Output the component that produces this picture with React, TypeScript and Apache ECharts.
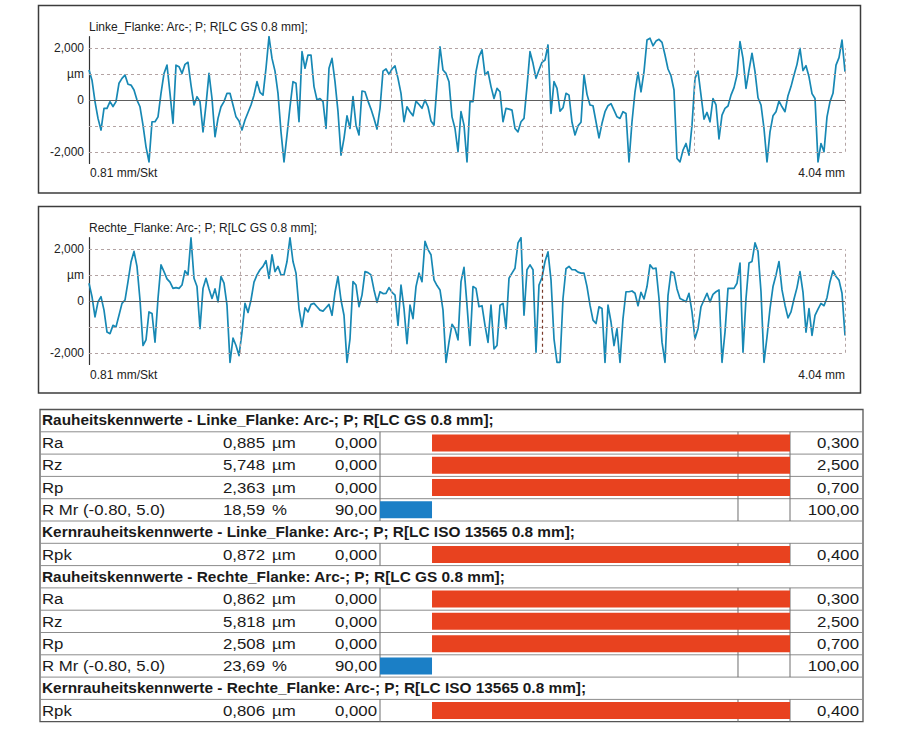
import React, { useEffect, useRef } from "react";
import * as echarts from "echarts";

// ---------- profile data (µm), sampled evenly over the 4.04 mm trace ----------
const PROFILE_LENGTH_MM = 4.04;
const DIVISION_MM = 0.808;
const divisionIndex = [1, 2, 3, 4, 5];

const leftFlankProfile = [
  1.16, 0.77, -0.06, -0.71, -1.16, -0.32, -0.32, -0.06, -0.25, -0.06,
  0.65, 0.84, 0.97, 0.61, 0.58, 0.39, 0, -0.26, -0.97, -1.81,
  -2.39, -0.84, -0.84, -0.65, 0.26, 1.03, 1.35, 0.26, -0.9, 1.35,
  1.29, 1.03, 1.38, 1.46, 0.58, -0.19, 0.13, -0.06, -1.23, -0.19,
  1.03, 0.06, -1.42, -0.71, -0.26, -0.06, 0.26, 0.26, -0.19, -0.65,
  -0.81, -1.16, -0.77, -0.48, -0.19, 0.19, 0.71, 0.3, 0.19, 1.23,
  2.45, 1.61, 1.12, 0.26, -1.23, -2.39, -1.35, -0.26, 0.71, 0.65,
  -0.84, 1.87, 1.23, 1.74, 1.74, 0.52, 0, 0.06, -0.06, -1.1,
  1.23, 1.61, 0.71, -0.45, -2.13, -1.48, -0.61, -1.1, 0.13, -0.97,
  -1.35, 0.35, 0.32, -0.04, -0.35, -0.71, -1.12, -0.32, 1.12, 1.2,
  0.99, 1.2, 1.32, 0.84, 0.26, -0.84, -0.26, -0.45, -0.61, -0.04,
  -0.17, -0.32, 0, -0.26, -0.81, -0.97, 0.58, 2.06, 1.16, 1.03,
  0.71, -0.65, -1.1, -2.0, -0.45, -0.97, -2.39, -0.06, -0.06, 1.1,
  1.68, 1.94, 0.97, 1.1, 0.52, 0.06, 0.45, 0.32, -0.84, -0.32,
  -0.35, -0.39, -1.1, -1.23, -0.84, -0.71, 0.52, 1.87, 1.42, 0.84,
  1.16, 1.46, 1.55, 2.13, -0.52, 0.71, 0.45, -0.43, -0.3, 0.26,
  0.19, -0.86, -1.35, -1.0, -0.86, 0.97, 0.22, -0.19, -0.22, -0.84,
  -1.46, -0.9, -0.45, -0.22, -0.14, -0.39, -0.65, -0.71, -0.45, -0.52,
  -2.39, -0.84, 0.32, 1.07, 0.32, 1.1, 2.32, 2.39, 2.1, 2.28,
  2.35, 2.23, 1.74, 1.2, 0.94, 0.39, -2.26, -2.39, -1.94, -1.68,
  -2.13, -0.97, 0.84, 1.12, 0.19, -0.74, -0.48, -0.84, 0.06, -0.19,
  -1.5, -0.58, -0.32, -0.23, 0.19, 0.48, 0.97, 2.26, 1.61, 0.45,
  1.16, 1.81, 1.1, 0.09, -0.19, -1.1, -2.39, -1.23, -0.61, -0.45,
  -0.04, -0.26, -0.45, 0.17, 0.52, 0.97, 1.38, 2.0, 1.14, 1.33,
  0.9, 0.25, 0.06, -2.39, -1.68, -2.0, -0.65, -0.06, 0.26, 1.35,
  1.64, 2.32, 1.1,
];

const rightFlankProfile = [
  0.69, 0.17, -0.61, -0.03, 0.17, -0.35, -1.2, -1.26, -0.94, -1.0,
  -0.55, -0.09, 0.04, 0.75, 1.51, 1.92, 1.34, 0.04, -1.72, -1.5,
  -0.42, -0.48, -1.59, 0.1, 1.4, 1.14, 0.86, 0.73, 0.49, 0.52,
  0.49, 0.62, 1.17, 1.01, 2.44, 0.88, 0.56, -1.07, 0.49, 0.88,
  0.47, 0.1, 0.47, -0.03, 0.95, 0.69, -0.16, -2.37, -1.43, -1.72,
  -2.11, -1.2, -0.09, -0.44, 0.04, 0.73, 1.01, 1.21, 1.34, 1.56,
  0.88, 1.79, 1.14, 1.34, 1.01, 1.01, 1.53, 2.44, 1.53, 1.08,
  -0.29, -1.0, -0.26, -0.42, -0.13, -0.09, -0.22, -0.35, -0.39, -0.26,
  -0.13, -0.55, 0.34, 0.95, 0.04, -0.55, -2.37, -1.46, 0.75, 0.62,
  -0.22, 0.23, 1.14, 1.1, 1.01, 0.43, -0.05, 0.36, 0.29, 0.3,
  0.52, 0.34, 0.23, -0.94, 0.62, -0.29, -1.65, -0.16, -0.68, 0.56,
  1.08, 0.75, 2.31, 1.99, 1.79, 0.82, 0.6, 0.43, -0.35, -2.37,
  -1.59, -0.9, -1.07, -1.5, 0.75, 1.3, -0.16, -1.72, 0.56, 0.49,
  -0.22, -0.18, -0.94, -1.6, -0.16, -1.85, -1.72, -0.16, -0.09, -1.07,
  0.88, 1.08, 1.27, 2.25, 2.45, -0.55, 1.21, 1.4, 1.21, -1.98,
  0.62, 0.91, 1.53, 1.9, 0.82, -1.46, -2.37, -2.37, 0.1, 1.25,
  1.34, 1.21, 1.21, 1.12, 1.08, 1.08, 0.56, -0.16, -0.74, -0.87,
  -0.22, -0.29, -2.37, -0.16, -0.81, -1.72, -1.07, -2.37, -0.68, 0.36,
  0.36, 0.39, 0.3, -0.18, 0.34, 0.08, 0.56, 1.4, 1.25, 1.27,
  0.1, -1.59, -2.37, 0.21, 1.14, 1.08, 0.47, 0.1, 0.04, -0.03,
  0.3, -0.42, -1.46, -1.07, -0.22, 0.04, 0.3, -0.03, 0.26, 0.36,
  0.43, -2.37, -1.2, 0.49, 0.49, 0.49, 0.69, 1.47, -1.98, 0.1,
  1.47, 1.53, 2.25, 1.92, 0.36, -2.37, -1.39, -0.29, 0.56, 1.01,
  1.53, 0.43, -0.16, -0.65, -0.42, 0.08, 0.52, 1.14, 0.34, -1.2,
  -0.29, -1.33, -0.55, -0.31, -0.09, -0.18, 0.13, 0.75, 1.17, 0.95,
  0.81, 0.3, -1.33,
];

const profileTitles = [
  "Linke_Flanke: Arc-; P; R[LC GS 0.8 mm];",
  "Rechte_Flanke: Arc-; P; R[LC GS 0.8 mm];",
];
const scaleLabel = "0.81 mm/Skt";
const lengthLabel = "4.04 mm";
const yTickValues = [-2, 0, 1, 2];
const yTickLabels = ["-2,000", "0", "µm", "2,000"];
const yGridValues = [-2, -1, 1, 2];
const Y_LIMIT = 2.45;

// ---------- roughness table ----------
const sectionHeaders = [
  "Rauheitskennwerte - Linke_Flanke: Arc-; P; R[LC GS 0.8 mm];",
  "Kernrauheitskennwerte - Linke_Flanke: Arc-; P; R[LC ISO 13565 0.8 mm];",
  "Rauheitskennwerte - Rechte_Flanke: Arc-; P; R[LC GS 0.8 mm];",
  "Kernrauheitskennwerte - Rechte_Flanke: Arc-; P; R[LC ISO 13565 0.8 mm];",
];
const rowKinds = ["H", "P", "P", "P", "P", "H", "P", "H", "P", "P", "P", "P", "H", "P"];
const paramNames = ["Ra", "Rz", "Rp", "R Mr (-0.80, 5.0)", "Rpk", "Ra", "Rz", "Rp", "R Mr (-0.80, 5.0)", "Rpk"];
const paramValues = [0.885, 5.748, 2.363, 18.59, 0.872, 0.862, 5.818, 2.508, 23.69, 0.806];
const paramUnits = ["µm", "µm", "µm", "%", "µm", "µm", "µm", "µm", "%", "µm"];
const paramDecimals = [3, 3, 3, 2, 3, 3, 3, 3, 2, 3];
const lowerLimits = [0, 0, 0, 90, 0, 0, 0, 0, 90, 0];
const upperLimits = [0.3, 2.5, 0.7, 100, 0.4, 0.3, 2.5, 0.7, 100, 0.4];
const BAR_OVERFLOW = 0.17; // scale zone drawn beyond each tolerance limit

const FONT = "'Liberation Sans', Arial, Helvetica, sans-serif";
const fmt = (v: number, d: number) => v.toFixed(d).replace(".", ",");

export default function App() {
  const ref = useRef<HTMLDivElement>(null);

  useEffect(() => {
    if (!ref.current) return;
    const chart = echarts.init(ref.current, undefined, { renderer: "svg" });

    const toPairs = (arr: number[]) => {
      const step = PROFILE_LENGTH_MM / (arr.length - 1);
      return arr.map((v, i) => [i * step, v]);
    };

    const gridStyle = { color: "#b3a3a3", width: 1, type: [3, 3] as any };
    const makeMarkLine = (darkDivision: number | null) => ({
      silent: true,
      symbol: ["none", "none"],
      label: { show: false },
      animation: false,
      data: [
        ...yGridValues.map((v) => ({ yAxis: v, lineStyle: gridStyle })),
        { yAxis: 0, lineStyle: { color: "#5e5e5e", width: 1.1, type: "solid" } },
        ...divisionIndex.map((k) => [
          {
            coord: [k * DIVISION_MM, -2],
            lineStyle:
              k === darkDivision
                ? { color: "#7a3a2a", width: 1.2, type: [3, 3] }
                : gridStyle,
          },
          { coord: [k * DIVISION_MM, 2] },
        ]),
      ],
    });

    // table layout
    const T_TOP = 409.5;
    const ROW_H = 22.3;
    const T_LEFT = 40;
    const T_RIGHT = 863;
    const BAR_L = 380;
    const BAR_R = 790;

    const rows: { header?: string; param?: number }[] = [];
    let hi = 0;
    let pi = 0;
    rowKinds.forEach((k) => {
      if (k === "H") rows.push({ header: sectionHeaders[hi++] });
      else rows.push({ param: pi++ });
    });

    const barData = rows.map((r) => {
      if (r.param === undefined) return "-";
      const i = r.param;
      const norm = (paramValues[i] - lowerLimits[i]) / (upperLimits[i] - lowerLimits[i]);
      const v = Math.max(-BAR_OVERFLOW, Math.min(1 + BAR_OVERFLOW, norm));
      const color = norm > 1 ? "#e8421f" : norm < 0 ? "#1b7fc6" : "#3aa655";
      return { value: v, itemStyle: { color } };
    });

    const graphics: any[] = [];
    // chart frames
    [
      [38.5, 5.5, 822, 187.5],
      [38.5, 206.5, 822, 186.5],
    ].forEach(([x, y, w, h]) =>
      graphics.push({
        type: "rect",
        shape: { x, y, width: w, height: h },
        style: { fill: "none", stroke: "#3c3c3c", lineWidth: 1.5 },
        silent: true,
      })
    );
    const textStyle = (extra: any) => ({
      fontFamily: FONT,
      fontSize: 12,
      fill: "#222",
      textVerticalAlign: "middle",
      ...extra,
    });
    [
      { title: profileTitles[0], ty: 27, by: 173 },
      { title: profileTitles[1], ty: 228, by: 375 },
    ].forEach((c) => {
      graphics.push({ type: "text", x: 89, y: c.ty, style: textStyle({ text: c.title }) });
      graphics.push({ type: "text", x: 90, y: c.by, style: textStyle({ text: scaleLabel }) });
      graphics.push({ type: "text", x: 845, y: c.by, style: textStyle({ text: lengthLabel, textAlign: "right" }) });
    });

    // table frame & lines
    graphics.push({
      type: "rect",
      shape: { x: T_LEFT, y: T_TOP, width: T_RIGHT - T_LEFT, height: ROW_H * rows.length },
      style: { fill: "none", stroke: "#555", lineWidth: 1.3 },
      silent: true,
    });
    for (let i = 1; i < rows.length; i++) {
      const y = T_TOP + ROW_H * i;
      graphics.push({
        type: "line",
        shape: { x1: T_LEFT, y1: y, x2: T_RIGHT, y2: y },
        style: { stroke: "#8c8c8c", lineWidth: 1 },
        silent: true,
      });
    }
    const innerLimitX = BAR_L + ((BAR_R - BAR_L) * (1 + BAR_OVERFLOW)) / (1 + 2 * BAR_OVERFLOW);
    const tRegular = (extra: any) => ({
      fontFamily: FONT,
      fontSize: 15,
      fill: "#1a1a1a",
      textVerticalAlign: "middle",
      ...extra,
    });
    rows.forEach((r, i) => {
      const top = T_TOP + ROW_H * i;
      const cy = top + ROW_H / 2;
      if (r.header !== undefined) {
        graphics.push({
          type: "text",
          x: 42,
          y: cy,
          scaleX: 1.1,
          style: { fontFamily: FONT, fontSize: 14, fontWeight: "bold", fill: "#1a1a1a", textVerticalAlign: "middle", text: r.header },
        });
        return;
      }
      const p = r.param as number;
      [BAR_L, innerLimitX, BAR_R].forEach((x) =>
        graphics.push({
          type: "line",
          shape: { x1: x, y1: top, x2: x, y2: top + ROW_H },
          style: { stroke: "#6e6e6e", lineWidth: 1 },
          silent: true,
        })
      );
      graphics.push({ type: "text", x: 42, y: cy, scaleX: 1.12, style: tRegular({ text: paramNames[p] }) });
      graphics.push({ type: "text", x: 265, y: cy, scaleX: 1.12, style: tRegular({ text: fmt(paramValues[p], paramDecimals[p]), textAlign: "right" }) });
      graphics.push({ type: "text", x: 272, y: cy, scaleX: 1.12, style: tRegular({ text: paramUnits[p] }) });
      graphics.push({ type: "text", x: 377, y: cy, scaleX: 1.12, style: tRegular({ text: fmt(lowerLimits[p], paramDecimals[p]), textAlign: "right" }) });
      graphics.push({ type: "text", x: 859, y: cy, scaleX: 1.12, style: tRegular({ text: fmt(upperLimits[p], paramDecimals[p]), textAlign: "right" }) });
    });

    const profileYAxis = (gridIndex: number) => ({
      gridIndex,
      type: "value",
      min: -Y_LIMIT,
      max: Y_LIMIT,
      axisLine: { show: true, onZero: false, lineStyle: { color: "#333", width: 1.2 } },
      axisTick: { show: false },
      splitLine: { show: false },
      axisLabel: {
        customValues: yTickValues,
        fontFamily: FONT,
        fontSize: 12,
        color: "#222",
        margin: 5,
        formatter: (v: number) => {
          const idx = yTickValues.findIndex((t) => Math.abs(t - v) < 1e-6);
          return idx >= 0 ? yTickLabels[idx] : "";
        },
      },
    });

    const profileLine = { color: "#1788b4", width: 1.7, join: "round" };

    chart.setOption({
      animation: false,
      backgroundColor: "#ffffff",
      grid: [
        { left: 89, top: 36.7, width: 756, height: 126.7 },
        { left: 89, top: 237.7, width: 756, height: 126.7 },
        { left: BAR_L, top: T_TOP, width: BAR_R - BAR_L, height: ROW_H * rows.length },
      ],
      xAxis: [
        { gridIndex: 0, type: "value", min: 0, max: PROFILE_LENGTH_MM, show: false },
        { gridIndex: 1, type: "value", min: 0, max: PROFILE_LENGTH_MM, show: false },
        { gridIndex: 2, type: "value", min: -BAR_OVERFLOW, max: 1 + BAR_OVERFLOW, show: false },
      ],
      yAxis: [
        profileYAxis(0),
        profileYAxis(1),
        { gridIndex: 2, type: "category", inverse: true, data: rows.map((_, i) => "row" + i), show: false },
      ],
      series: [
        {
          type: "line",
          xAxisIndex: 0,
          yAxisIndex: 0,
          data: toPairs(leftFlankProfile),
          showSymbol: false,
          symbol: "none",
          clip: true,
          lineStyle: profileLine,
          markLine: makeMarkLine(null),
          z: 3,
        },
        {
          type: "line",
          xAxisIndex: 1,
          yAxisIndex: 1,
          data: toPairs(rightFlankProfile),
          showSymbol: false,
          symbol: "none",
          clip: true,
          lineStyle: profileLine,
          markLine: makeMarkLine(3),
          z: 3,
        },
        {
          type: "bar",
          xAxisIndex: 2,
          yAxisIndex: 2,
          data: barData,
          barWidth: 17,
          silent: true,
        },
      ],
      graphic: { elements: graphics },
    } as any);

    return () => chart.dispose();
  }, []);

  return (
    <div
      ref={ref}
      style={{ position: "absolute", left: 0, top: 0, width: 911, height: 735, background: "#fff" }}
    />
  );
}
